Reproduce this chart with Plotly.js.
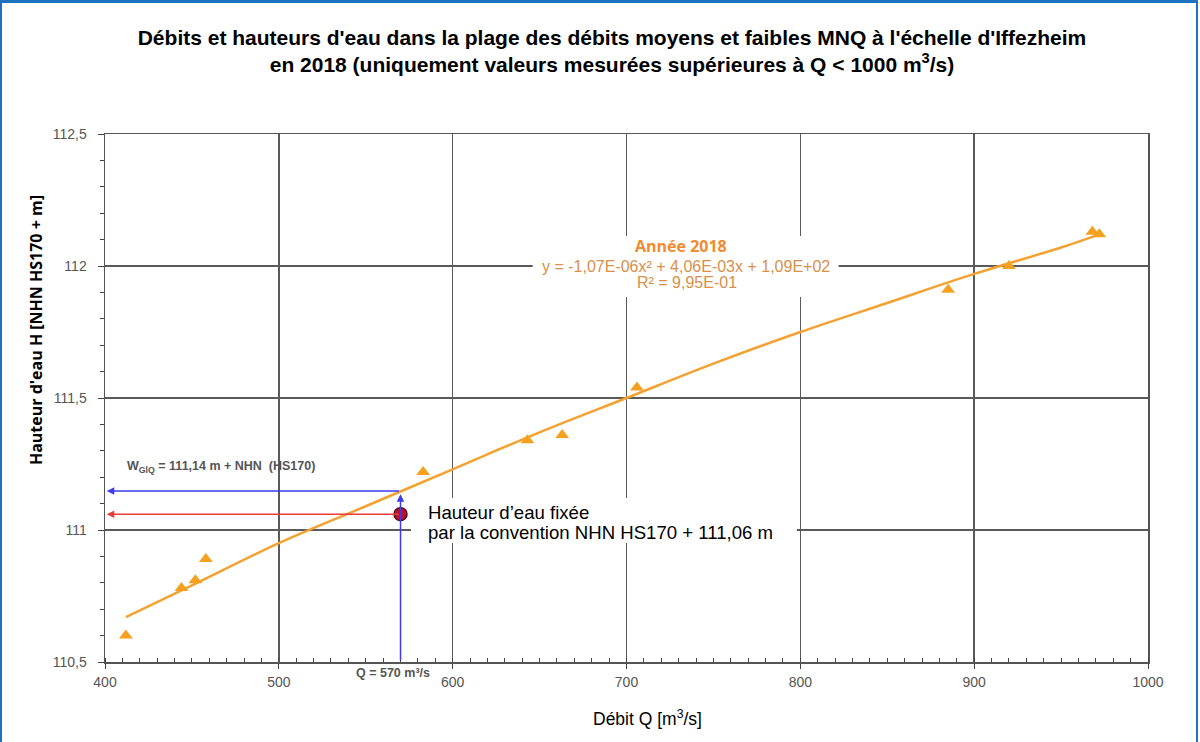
<!DOCTYPE html>
<html><head><meta charset="utf-8">
<script src="https://cdn.plot.ly/plotly-3.0.1.min.js"></script>
<style>
body{margin:0;background:#fff}
#wrap{position:relative;width:1200px;height:742px;overflow:hidden}
#frame{position:absolute;left:0;top:0;width:1194px;height:780px;border-top:3px solid #1b73c0;border-left:2px solid #1b73c0;border-right:2px solid #1b73c0;pointer-events:none}
</style>
</head><body><div id="wrap"><div id="chart"></div><div id="frame"></div></div>
<script>
const debitQ   = [412, 444, 452, 458, 583, 643, 663, 706, 885, 920, 968, 972];
const hauteurH = [110.60, 110.78, 110.81, 110.89, 111.22, 111.34, 111.36, 111.54, 111.91, 112.00, 112.13, 112.12];
// Trend curve
const trendQ = [412, 450, 500, 550, 600, 650, 700, 750, 800, 850, 900, 950, 972];
const trendH = [110.67, 110.79, 110.95, 111.09, 111.23, 111.37, 111.50, 111.63, 111.75, 111.86, 111.97, 112.07, 112.12];
// Reference point
const qRef = [570];
const wConvention = [111.06];
const wGlQ = 111.14;
const qMin = 400, qMax = 1000, hMin = 110.5, hMax = 112.5;

const orange = '#f5a01e';
const traces = [
  {x: trendQ, y: trendH, mode: 'lines', line: {color: '#f3a232', width: 2.5, shape: 'spline'}, hoverinfo: 'skip'},
  {x: debitQ, y: hauteurH, mode: 'markers', marker: {symbol: 'triangle-up', size: 12, color: orange}},
  {x: qRef, y: wConvention, mode: 'markers', marker: {symbol: 'circle', size: 13, color: '#b8122c', line: {color: '#5e0a1c', width: 1.5}}}
];

const arrowBase = {text: '', showarrow: true, arrowhead: 2, arrowsize: 1, arrowwidth: 1.5, axref: 'x', ayref: 'y', xref: 'x', yref: 'y'};
const ff = 'Liberation Sans, Arial, sans-serif';
const layout = {
  width: 1200, height: 742,
  margin: {l: 105, r: 52, t: 134, b: 80},
  paper_bgcolor: '#fff', plot_bgcolor: '#fff',
  separators: ', ',
  showlegend: false,
  font: {family: ff, color: '#555'},
  title: {
    text: "<b>Débits et hauteurs d'eau dans la plage des débits moyens et faibles MNQ à l'échelle d'Iffezheim<br>en 2018 (uniquement valeurs mesurées supérieures à Q &lt; 1000 m<sup>3</sup>/s)</b>",
    font: {family: ff, size: 21, color: '#000'},
    x: 0.51, xanchor: 'center', y: 0.94, yanchor: 'top'
  },
  xaxis: {
    range: [qMin, qMax], dtick: 100, tick0: 400,
    showgrid: true, gridcolor: '#5a5a5a', gridwidth: 1.5,
    showline: true, linecolor: '#555', linewidth: 1.5, mirror: true,
    ticks: 'outside', ticklen: 5, tickcolor: '#444', tickwidth: 1,
    minor: {dtick: 10, ticks: 'inside', ticklen: 4, tickcolor: '#444', showgrid: false},
    tickfont: {size: 14, color: '#555'}, ticklabelstandoff: 2,
    zeroline: false
  },
  yaxis: {
    range: [hMin, hMax], dtick: 0.5, tick0: 110.5,
    showgrid: true, gridcolor: '#5a5a5a', gridwidth: 1.5,
    showline: true, linecolor: '#555', linewidth: 1.5, mirror: true,
    ticks: 'outside', ticklen: 6, tickcolor: '#444', tickwidth: 1,
    minor: {dtick: 0.1, ticks: 'outside', ticklen: 4, tickcolor: '#444', showgrid: false},
    tickfont: {size: 14, color: '#555'}, ticklabelstandoff: 8,
    zeroline: false
  },
  shapes: [
    {type: 'rect', xref: 'x', yref: 'y', x0: 646, x1: 822, y0: 111.883, y1: 112.114, fillcolor: '#fff', line: {width: 0}, layer: 'above'},
    {type: 'rect', xref: 'x', yref: 'y', x0: 576, x1: 798, y0: 110.951, y1: 111.121, fillcolor: '#fff', line: {width: 0}, layer: 'above'}
  ],
  annotations: [
    Object.assign({}, arrowBase, {x: qRef[0], y: wGlQ - 0.005, ax: qRef[0], ay: hMin, arrowcolor: '#3b3bf0'}),
    Object.assign({}, arrowBase, {x: 401, y: wGlQ + 0.008, ax: qRef[0], ay: wGlQ + 0.008, arrowcolor: '#3b3bf0'}),
    Object.assign({}, arrowBase, {x: 401, y: wConvention[0], ax: qRef[0], ay: wConvention[0], arrowcolor: '#ee3b3b'}),
    {xref: 'x', yref: 'y', x: 411.5, y: 111.24, xanchor: 'left', yanchor: 'middle', showarrow: false,
     text: '<b>W<sub>GlQ</sub> = 111,14 m + NHN  (HS170)</b>', font: {size: 12.5, color: '#555'}},
    {xref: 'x', yref: 'paper', x: 565.5, y: -0.021, xanchor: 'center', yanchor: 'middle', showarrow: false,
     text: '<b>Q = 570 m³/s</b>', font: {size: 12.5, color: '#555'}},
    {xref: 'x', yref: 'y', x: 584.5, y: 111.068, xanchor: 'left', yanchor: 'middle', align: 'left', showarrow: false,
     text: "Hauteur d’eau fixée", font: {size: 18.6, color: '#000'}},
    {xref: 'x', yref: 'y', x: 584.5, y: 110.992, xanchor: 'left', yanchor: 'middle', align: 'left', showarrow: false,
     text: "par la convention NHN HS170 + 111,06 m", font: {size: 18.6, color: '#000'}},
    {xref: 'x', yref: 'y', x: 731.6, y: 112.076, xanchor: 'center', yanchor: 'middle', showarrow: false,
     text: '<b>Année 2018</b>', font: {family: 'Open Sans, sans-serif', size: 16, color: '#f28a2e'}},
    {xref: 'x', yref: 'y', x: 734, y: 112.0, xanchor: 'center', yanchor: 'middle', showarrow: false,
     text: 'y = -1,07E-06x² + 4,06E-03x + 1,09E+02', font: {size: 16, color: '#d99049'}},
    {xref: 'x', yref: 'y', x: 735, y: 111.938, xanchor: 'center', yanchor: 'middle', showarrow: false,
     text: 'R² = 9,95E-01', font: {size: 16, color: '#d99049'}},
    {xref: 'paper', yref: 'paper', x: -0.066, y: 0.629, xanchor: 'center', yanchor: 'middle', textangle: -90, showarrow: false,
     text: "<b>Hauteur d'eau H [NHN HS170 + m]</b>", font: {family: 'Open Sans, sans-serif', size: 16, color: '#000'}},
    {xref: 'paper', yref: 'paper', x: 0.5197, y: -0.106, xanchor: 'center', yanchor: 'middle', showarrow: false,
     text: 'Débit Q [m<sup>3</sup>/s]', font: {size: 17.5, color: '#000'}}
  ]
};
Plotly.newPlot('chart', traces, layout, {displayModeBar: false, staticPlot: true});
</script>
</body></html>
